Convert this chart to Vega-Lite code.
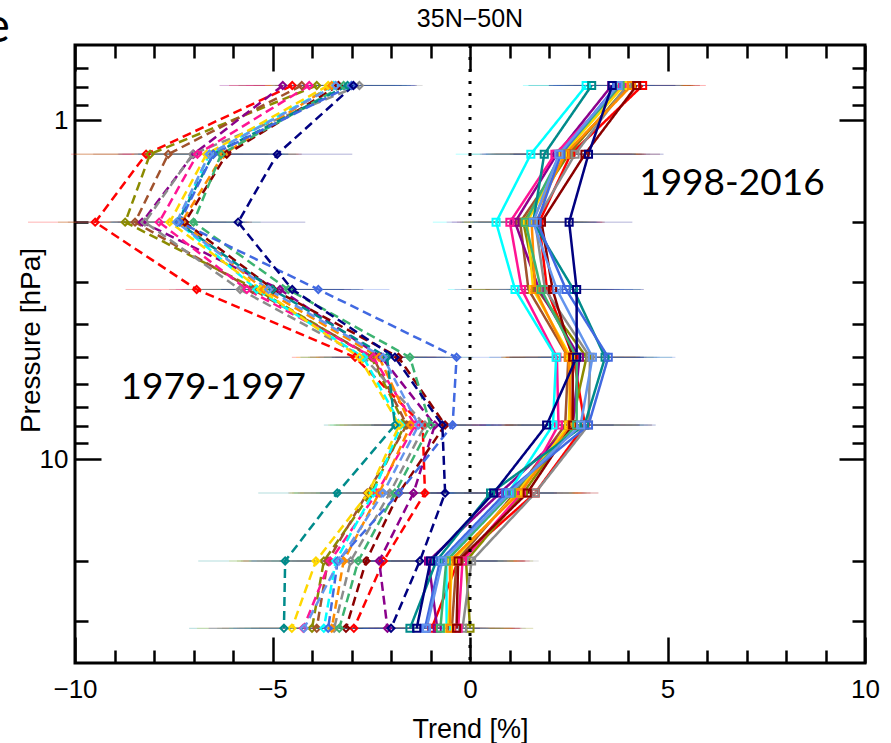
{
"$schema": "https://vega.github.io/schema/vega-lite/v6.json",
"width": 790, "height": 618,
"autosize": {"type": "none"},
"padding": {"left": 75, "top": 45, "right": 26, "bottom": 80},
"config": {
  "view": {"stroke": "black", "strokeWidth": 3},
  "axis": {"domain": false, "grid": false, "tickColor": "black", "tickWidth": 2.5, "labelColor": "black", "titleColor": "black", "labelFont": "Liberation Sans", "titleFont": "Liberation Sans", "labelFontSize": 26, "titleFontSize": 27, "titleFontWeight": "normal", "labelFlush": false, "labelOverlap": false}
},
"data": {"values": [
{"s":"red","g":"1979-1997","p":0.79,"t":-4.5,"e":1.6},{"s":"red","g":"1979-1997","p":1.26,"t":-8.2,"e":1.9},{"s":"red","g":"1979-1997","p":2.0,"t":-9.49,"e":1.7},{"s":"red","g":"1979-1997","p":3.16,"t":-6.92,"e":1.8},{"s":"red","g":"1979-1997","p":5.01,"t":-2.91,"e":1.6},{"s":"red","g":"1979-1997","p":7.94,"t":-1.2,"e":1.8},{"s":"red","g":"1979-1997","p":12.6,"t":-1.14,"e":2.0},{"s":"red","g":"1979-1997","p":20,"t":-2.19,"e":2.2},{"s":"red","g":"1979-1997","p":31.6,"t":-2.94,"e":2.4},
{"s":"olive","g":"1979-1997","p":0.79,"t":-3.88,"e":1.6},{"s":"olive","g":"1979-1997","p":1.26,"t":-8.1,"e":1.9},{"s":"olive","g":"1979-1997","p":2.0,"t":-8.73,"e":1.7},{"s":"olive","g":"1979-1997","p":3.16,"t":-5.4,"e":1.8},{"s":"olive","g":"1979-1997","p":5.01,"t":-2.5,"e":1.6},{"s":"olive","g":"1979-1997","p":7.94,"t":-1.65,"e":1.8},{"s":"olive","g":"1979-1997","p":12.6,"t":-2.5,"e":2.0},{"s":"olive","g":"1979-1997","p":20,"t":-3.7,"e":2.2},{"s":"olive","g":"1979-1997","p":31.6,"t":-4.0,"e":2.4},
{"s":"sienna","g":"1979-1997","p":0.79,"t":-4.26,"e":1.6},{"s":"sienna","g":"1979-1997","p":1.26,"t":-7.64,"e":1.9},{"s":"sienna","g":"1979-1997","p":2.0,"t":-8.48,"e":1.7},{"s":"sienna","g":"1979-1997","p":3.16,"t":-5.5,"e":1.8},{"s":"sienna","g":"1979-1997","p":5.01,"t":-2.45,"e":1.6},{"s":"sienna","g":"1979-1997","p":7.94,"t":-1.6,"e":1.8},{"s":"sienna","g":"1979-1997","p":12.6,"t":-2.6,"e":2.0},{"s":"sienna","g":"1979-1997","p":20,"t":-3.6,"e":2.2},{"s":"sienna","g":"1979-1997","p":31.6,"t":-3.88,"e":2.4},
{"s":"purple","g":"1979-1997","p":0.79,"t":-4.74,"e":1.6},{"s":"purple","g":"1979-1997","p":1.26,"t":-7.0,"e":1.9},{"s":"purple","g":"1979-1997","p":2.0,"t":-8.3,"e":1.7},{"s":"purple","g":"1979-1997","p":3.16,"t":-4.81,"e":1.8},{"s":"purple","g":"1979-1997","p":5.01,"t":-2.24,"e":1.6},{"s":"purple","g":"1979-1997","p":7.94,"t":-0.89,"e":1.8},{"s":"purple","g":"1979-1997","p":12.6,"t":-1.43,"e":2.0},{"s":"purple","g":"1979-1997","p":20,"t":-2.3,"e":2.2},{"s":"purple","g":"1979-1997","p":31.6,"t":-2.09,"e":2.4},
{"s":"gray","g":"1979-1997","p":0.79,"t":-2.8,"e":1.6},{"s":"gray","g":"1979-1997","p":1.26,"t":-7.02,"e":1.9},{"s":"gray","g":"1979-1997","p":2.0,"t":-8.23,"e":1.7},{"s":"gray","g":"1979-1997","p":3.16,"t":-5.82,"e":1.8},{"s":"gray","g":"1979-1997","p":5.01,"t":-2.68,"e":1.6},{"s":"gray","g":"1979-1997","p":7.94,"t":-1.14,"e":1.8},{"s":"gray","g":"1979-1997","p":12.6,"t":-2.03,"e":2.0},{"s":"gray","g":"1979-1997","p":20,"t":-3.02,"e":2.2},{"s":"gray","g":"1979-1997","p":31.6,"t":-3.44,"e":2.4},
{"s":"deeppink","g":"1979-1997","p":0.79,"t":-4.07,"e":1.6},{"s":"deeppink","g":"1979-1997","p":1.26,"t":-6.9,"e":1.9},{"s":"deeppink","g":"1979-1997","p":2.0,"t":-7.87,"e":1.7},{"s":"deeppink","g":"1979-1997","p":3.16,"t":-5.65,"e":1.8},{"s":"deeppink","g":"1979-1997","p":5.01,"t":-2.45,"e":1.6},{"s":"deeppink","g":"1979-1997","p":7.94,"t":-1.39,"e":1.8},{"s":"deeppink","g":"1979-1997","p":12.6,"t":-2.36,"e":2.0},{"s":"deeppink","g":"1979-1997","p":20,"t":-3.54,"e":2.2},{"s":"deeppink","g":"1979-1997","p":31.6,"t":-4.22,"e":2.4},
{"s":"cyan","g":"1979-1997","p":0.79,"t":-3.45,"e":1.6},{"s":"cyan","g":"1979-1997","p":1.26,"t":-6.6,"e":1.9},{"s":"cyan","g":"1979-1997","p":2.0,"t":-7.4,"e":1.7},{"s":"cyan","g":"1979-1997","p":3.16,"t":-5.4,"e":1.8},{"s":"cyan","g":"1979-1997","p":5.01,"t":-2.7,"e":1.6},{"s":"cyan","g":"1979-1997","p":7.94,"t":-1.75,"e":1.8},{"s":"cyan","g":"1979-1997","p":12.6,"t":-2.45,"e":2.0},{"s":"cyan","g":"1979-1997","p":20,"t":-3.4,"e":2.2},{"s":"cyan","g":"1979-1997","p":31.6,"t":-3.7,"e":2.4},
{"s":"gold","g":"1979-1997","p":0.79,"t":-3.59,"e":1.6},{"s":"gold","g":"1979-1997","p":1.26,"t":-6.67,"e":1.9},{"s":"gold","g":"1979-1997","p":2.0,"t":-7.6,"e":1.7},{"s":"gold","g":"1979-1997","p":3.16,"t":-5.3,"e":1.8},{"s":"gold","g":"1979-1997","p":5.01,"t":-2.8,"e":1.6},{"s":"gold","g":"1979-1997","p":7.94,"t":-1.79,"e":1.8},{"s":"gold","g":"1979-1997","p":12.6,"t":-2.57,"e":2.0},{"s":"gold","g":"1979-1997","p":20,"t":-3.9,"e":2.2},{"s":"gold","g":"1979-1997","p":31.6,"t":-4.51,"e":2.4},
{"s":"orange","g":"1979-1997","p":0.79,"t":-3.5,"e":1.6},{"s":"orange","g":"1979-1997","p":1.26,"t":-6.24,"e":1.9},{"s":"orange","g":"1979-1997","p":2.0,"t":-7.3,"e":1.7},{"s":"orange","g":"1979-1997","p":3.16,"t":-5.22,"e":1.8},{"s":"orange","g":"1979-1997","p":5.01,"t":-2.3,"e":1.6},{"s":"orange","g":"1979-1997","p":7.94,"t":-1.5,"e":1.8},{"s":"orange","g":"1979-1997","p":12.6,"t":-2.3,"e":2.0},{"s":"orange","g":"1979-1997","p":20,"t":-3.2,"e":2.2},{"s":"orange","g":"1979-1997","p":31.6,"t":-3.5,"e":2.4},
{"s":"maroon","g":"1979-1997","p":0.79,"t":-3.33,"e":1.6},{"s":"maroon","g":"1979-1997","p":1.26,"t":-6.16,"e":1.9},{"s":"maroon","g":"1979-1997","p":2.0,"t":-7.22,"e":1.7},{"s":"maroon","g":"1979-1997","p":3.16,"t":-4.98,"e":1.8},{"s":"maroon","g":"1979-1997","p":5.01,"t":-1.81,"e":1.6},{"s":"maroon","g":"1979-1997","p":7.94,"t":-0.63,"e":1.8},{"s":"maroon","g":"1979-1997","p":12.6,"t":-1.8,"e":2.0},{"s":"maroon","g":"1979-1997","p":20,"t":-2.63,"e":2.2},{"s":"maroon","g":"1979-1997","p":31.6,"t":-3.14,"e":2.4},
{"s":"seagreen","g":"1979-1997","p":0.79,"t":-3.2,"e":1.6},{"s":"seagreen","g":"1979-1997","p":1.26,"t":-6.3,"e":1.9},{"s":"seagreen","g":"1979-1997","p":2.0,"t":-7.0,"e":1.7},{"s":"seagreen","g":"1979-1997","p":3.16,"t":-4.6,"e":1.8},{"s":"seagreen","g":"1979-1997","p":5.01,"t":-1.52,"e":1.6},{"s":"seagreen","g":"1979-1997","p":7.94,"t":-1.0,"e":1.8},{"s":"seagreen","g":"1979-1997","p":12.6,"t":-1.9,"e":2.0},{"s":"seagreen","g":"1979-1997","p":20,"t":-2.83,"e":2.2},{"s":"seagreen","g":"1979-1997","p":31.6,"t":-3.31,"e":2.4},
{"s":"teal","g":"1979-1997","p":0.79,"t":-3.1,"e":1.6},{"s":"teal","g":"1979-1997","p":1.26,"t":-6.5,"e":1.9},{"s":"teal","g":"1979-1997","p":2.0,"t":-7.4,"e":1.7},{"s":"teal","g":"1979-1997","p":3.16,"t":-5.0,"e":1.8},{"s":"teal","g":"1979-1997","p":5.01,"t":-2.1,"e":1.6},{"s":"teal","g":"1979-1997","p":7.94,"t":-1.9,"e":1.8},{"s":"teal","g":"1979-1997","p":12.6,"t":-3.36,"e":2.0},{"s":"teal","g":"1979-1997","p":20,"t":-4.68,"e":2.2},{"s":"teal","g":"1979-1997","p":31.6,"t":-4.71,"e":2.4},
{"s":"royalblue","g":"1979-1997","p":0.79,"t":-3.0,"e":1.6},{"s":"royalblue","g":"1979-1997","p":1.26,"t":-6.5,"e":1.9},{"s":"royalblue","g":"1979-1997","p":2.0,"t":-7.35,"e":1.7},{"s":"royalblue","g":"1979-1997","p":3.16,"t":-3.84,"e":1.8},{"s":"royalblue","g":"1979-1997","p":5.01,"t":-0.34,"e":1.6},{"s":"royalblue","g":"1979-1997","p":7.94,"t":-0.44,"e":1.8},{"s":"royalblue","g":"1979-1997","p":12.6,"t":-1.8,"e":2.0},{"s":"royalblue","g":"1979-1997","p":20,"t":-3.35,"e":2.2},{"s":"royalblue","g":"1979-1997","p":31.6,"t":-3.59,"e":2.4},
{"s":"cornflower","g":"1979-1997","p":0.79,"t":-3.4,"e":1.6},{"s":"cornflower","g":"1979-1997","p":1.26,"t":-6.6,"e":1.9},{"s":"cornflower","g":"1979-1997","p":2.0,"t":-7.43,"e":1.7},{"s":"cornflower","g":"1979-1997","p":3.16,"t":-5.1,"e":1.8},{"s":"cornflower","g":"1979-1997","p":5.01,"t":-2.2,"e":1.6},{"s":"cornflower","g":"1979-1997","p":7.94,"t":-1.3,"e":1.8},{"s":"cornflower","g":"1979-1997","p":12.6,"t":-2.2,"e":2.0},{"s":"cornflower","g":"1979-1997","p":20,"t":-3.31,"e":2.2},{"s":"cornflower","g":"1979-1997","p":31.6,"t":-4.2,"e":2.4},
{"s":"navy","g":"1979-1997","p":0.79,"t":-2.95,"e":1.6},{"s":"navy","g":"1979-1997","p":1.26,"t":-4.88,"e":1.9},{"s":"navy","g":"1979-1997","p":2.0,"t":-5.87,"e":1.7},{"s":"navy","g":"1979-1997","p":3.16,"t":-4.5,"e":1.8},{"s":"navy","g":"1979-1997","p":5.01,"t":-1.9,"e":1.6},{"s":"navy","g":"1979-1997","p":7.94,"t":-0.7,"e":1.8},{"s":"navy","g":"1979-1997","p":12.6,"t":-0.63,"e":2.0},{"s":"navy","g":"1979-1997","p":20,"t":-1.27,"e":2.2},{"s":"navy","g":"1979-1997","p":31.6,"t":-2.0,"e":2.4},
{"s":"red","g":"1998-2016","p":0.79,"t":4.37,"e":1.6},{"s":"red","g":"1998-2016","p":1.26,"t":2.55,"e":1.9},{"s":"red","g":"1998-2016","p":2.0,"t":1.75,"e":1.6},{"s":"red","g":"1998-2016","p":3.16,"t":1.95,"e":1.7},{"s":"red","g":"1998-2016","p":5.01,"t":2.62,"e":1.7},{"s":"red","g":"1998-2016","p":7.94,"t":2.91,"e":1.7},{"s":"red","g":"1998-2016","p":12.6,"t":1.65,"e":1.6},{"s":"red","g":"1998-2016","p":20,"t":-0.3,"e":1.7},{"s":"red","g":"1998-2016","p":31.6,"t":-0.97,"e":1.6},
{"s":"olive","g":"1998-2016","p":0.79,"t":4.0,"e":1.6},{"s":"olive","g":"1998-2016","p":1.26,"t":2.5,"e":1.9},{"s":"olive","g":"1998-2016","p":2.0,"t":1.35,"e":1.6},{"s":"olive","g":"1998-2016","p":3.16,"t":1.7,"e":1.7},{"s":"olive","g":"1998-2016","p":5.01,"t":2.95,"e":1.7},{"s":"olive","g":"1998-2016","p":7.94,"t":2.57,"e":1.7},{"s":"olive","g":"1998-2016","p":12.6,"t":1.35,"e":1.6},{"s":"olive","g":"1998-2016","p":20,"t":-0.1,"e":1.7},{"s":"olive","g":"1998-2016","p":31.6,"t":0.0,"e":1.6},
{"s":"sienna","g":"1998-2016","p":0.79,"t":4.05,"e":1.6},{"s":"sienna","g":"1998-2016","p":1.26,"t":2.45,"e":1.9},{"s":"sienna","g":"1998-2016","p":2.0,"t":1.27,"e":1.6},{"s":"sienna","g":"1998-2016","p":3.16,"t":1.48,"e":1.7},{"s":"sienna","g":"1998-2016","p":5.01,"t":2.49,"e":1.7},{"s":"sienna","g":"1998-2016","p":7.94,"t":2.41,"e":1.7},{"s":"sienna","g":"1998-2016","p":12.6,"t":1.14,"e":1.6},{"s":"sienna","g":"1998-2016","p":20,"t":-0.34,"e":1.7},{"s":"sienna","g":"1998-2016","p":31.6,"t":-0.46,"e":1.6},
{"s":"purple","g":"1998-2016","p":0.79,"t":3.59,"e":1.6},{"s":"purple","g":"1998-2016","p":1.26,"t":2.2,"e":1.9},{"s":"purple","g":"1998-2016","p":2.0,"t":1.14,"e":1.6},{"s":"purple","g":"1998-2016","p":3.16,"t":1.75,"e":1.7},{"s":"purple","g":"1998-2016","p":5.01,"t":2.77,"e":1.7},{"s":"purple","g":"1998-2016","p":7.94,"t":2.6,"e":1.7},{"s":"purple","g":"1998-2016","p":12.6,"t":0.76,"e":1.6},{"s":"purple","g":"1998-2016","p":20,"t":-1.05,"e":1.7},{"s":"purple","g":"1998-2016","p":31.6,"t":-0.83,"e":1.6},
{"s":"gray","g":"1998-2016","p":0.79,"t":3.97,"e":1.6},{"s":"gray","g":"1998-2016","p":1.26,"t":2.66,"e":1.9},{"s":"gray","g":"1998-2016","p":2.0,"t":1.65,"e":1.6},{"s":"gray","g":"1998-2016","p":3.16,"t":1.9,"e":1.7},{"s":"gray","g":"1998-2016","p":5.01,"t":3.04,"e":1.7},{"s":"gray","g":"1998-2016","p":7.94,"t":3.0,"e":1.7},{"s":"gray","g":"1998-2016","p":12.6,"t":1.65,"e":1.6},{"s":"gray","g":"1998-2016","p":20,"t":0.04,"e":1.7},{"s":"gray","g":"1998-2016","p":31.6,"t":-0.19,"e":1.6},
{"s":"deeppink","g":"1998-2016","p":0.79,"t":3.86,"e":1.6},{"s":"deeppink","g":"1998-2016","p":1.26,"t":2.15,"e":1.9},{"s":"deeppink","g":"1998-2016","p":2.0,"t":1.01,"e":1.6},{"s":"deeppink","g":"1998-2016","p":3.16,"t":1.31,"e":1.7},{"s":"deeppink","g":"1998-2016","p":5.01,"t":2.2,"e":1.7},{"s":"deeppink","g":"1998-2016","p":7.94,"t":2.24,"e":1.7},{"s":"deeppink","g":"1998-2016","p":12.6,"t":1.3,"e":1.6},{"s":"deeppink","g":"1998-2016","p":20,"t":-0.19,"e":1.7},{"s":"deeppink","g":"1998-2016","p":31.6,"t":-0.3,"e":1.6},
{"s":"cyan","g":"1998-2016","p":0.79,"t":2.94,"e":1.6},{"s":"cyan","g":"1998-2016","p":1.26,"t":1.54,"e":1.9},{"s":"cyan","g":"1998-2016","p":2.0,"t":0.66,"e":1.6},{"s":"cyan","g":"1998-2016","p":3.16,"t":1.14,"e":1.7},{"s":"cyan","g":"1998-2016","p":5.01,"t":2.18,"e":1.7},{"s":"cyan","g":"1998-2016","p":7.94,"t":2.1,"e":1.7},{"s":"cyan","g":"1998-2016","p":12.6,"t":0.97,"e":1.6},{"s":"cyan","g":"1998-2016","p":20,"t":-0.6,"e":1.7},{"s":"cyan","g":"1998-2016","p":31.6,"t":-0.59,"e":1.6},
{"s":"gold","g":"1998-2016","p":0.79,"t":3.9,"e":1.6},{"s":"gold","g":"1998-2016","p":1.26,"t":2.35,"e":1.9},{"s":"gold","g":"1998-2016","p":2.0,"t":1.45,"e":1.6},{"s":"gold","g":"1998-2016","p":3.16,"t":1.6,"e":1.7},{"s":"gold","g":"1998-2016","p":5.01,"t":2.55,"e":1.7},{"s":"gold","g":"1998-2016","p":7.94,"t":2.5,"e":1.7},{"s":"gold","g":"1998-2016","p":12.6,"t":1.2,"e":1.6},{"s":"gold","g":"1998-2016","p":20,"t":-0.45,"e":1.7},{"s":"gold","g":"1998-2016","p":31.6,"t":-0.55,"e":1.6},
{"s":"orange","g":"1998-2016","p":0.79,"t":4.09,"e":1.6},{"s":"orange","g":"1998-2016","p":1.26,"t":2.41,"e":1.9},{"s":"orange","g":"1998-2016","p":2.0,"t":1.56,"e":1.6},{"s":"orange","g":"1998-2016","p":3.16,"t":1.65,"e":1.7},{"s":"orange","g":"1998-2016","p":5.01,"t":2.49,"e":1.7},{"s":"orange","g":"1998-2016","p":7.94,"t":2.57,"e":1.7},{"s":"orange","g":"1998-2016","p":12.6,"t":1.25,"e":1.6},{"s":"orange","g":"1998-2016","p":20,"t":-0.51,"e":1.7},{"s":"orange","g":"1998-2016","p":31.6,"t":-0.5,"e":1.6},
{"s":"maroon","g":"1998-2016","p":0.79,"t":4.22,"e":1.6},{"s":"maroon","g":"1998-2016","p":1.26,"t":2.91,"e":1.9},{"s":"maroon","g":"1998-2016","p":2.0,"t":1.81,"e":1.6},{"s":"maroon","g":"1998-2016","p":3.16,"t":2.09,"e":1.7},{"s":"maroon","g":"1998-2016","p":5.01,"t":2.6,"e":1.7},{"s":"maroon","g":"1998-2016","p":7.94,"t":2.6,"e":1.7},{"s":"maroon","g":"1998-2016","p":12.6,"t":1.45,"e":1.6},{"s":"maroon","g":"1998-2016","p":20,"t":-0.3,"e":1.7},{"s":"maroon","g":"1998-2016","p":31.6,"t":-0.34,"e":1.6},
{"s":"seagreen","g":"1998-2016","p":0.79,"t":3.8,"e":1.6},{"s":"seagreen","g":"1998-2016","p":1.26,"t":2.3,"e":1.9},{"s":"seagreen","g":"1998-2016","p":2.0,"t":1.4,"e":1.6},{"s":"seagreen","g":"1998-2016","p":3.16,"t":1.8,"e":1.7},{"s":"seagreen","g":"1998-2016","p":5.01,"t":2.7,"e":1.7},{"s":"seagreen","g":"1998-2016","p":7.94,"t":2.7,"e":1.7},{"s":"seagreen","g":"1998-2016","p":12.6,"t":1.05,"e":1.6},{"s":"seagreen","g":"1998-2016","p":20,"t":-0.6,"e":1.7},{"s":"seagreen","g":"1998-2016","p":31.6,"t":-0.75,"e":1.6},
{"s":"teal","g":"1998-2016","p":0.79,"t":3.08,"e":1.6},{"s":"teal","g":"1998-2016","p":1.26,"t":1.88,"e":1.9},{"s":"teal","g":"1998-2016","p":2.0,"t":1.6,"e":1.6},{"s":"teal","g":"1998-2016","p":3.16,"t":2.62,"e":1.7},{"s":"teal","g":"1998-2016","p":5.01,"t":3.42,"e":1.7},{"s":"teal","g":"1998-2016","p":7.94,"t":2.9,"e":1.7},{"s":"teal","g":"1998-2016","p":12.6,"t":0.52,"e":1.6},{"s":"teal","g":"1998-2016","p":20,"t":-0.85,"e":1.7},{"s":"teal","g":"1998-2016","p":31.6,"t":-1.52,"e":1.6},
{"s":"royalblue","g":"1998-2016","p":0.79,"t":3.71,"e":1.6},{"s":"royalblue","g":"1998-2016","p":1.26,"t":2.3,"e":1.9},{"s":"royalblue","g":"1998-2016","p":2.0,"t":1.7,"e":1.6},{"s":"royalblue","g":"1998-2016","p":3.16,"t":2.43,"e":1.7},{"s":"royalblue","g":"1998-2016","p":5.01,"t":3.5,"e":1.7},{"s":"royalblue","g":"1998-2016","p":7.94,"t":3.0,"e":1.7},{"s":"royalblue","g":"1998-2016","p":12.6,"t":0.9,"e":1.6},{"s":"royalblue","g":"1998-2016","p":20,"t":-0.76,"e":1.7},{"s":"royalblue","g":"1998-2016","p":31.6,"t":-1.14,"e":1.6},
{"s":"cornflower","g":"1998-2016","p":0.79,"t":3.75,"e":1.6},{"s":"cornflower","g":"1998-2016","p":1.26,"t":2.25,"e":1.9},{"s":"cornflower","g":"1998-2016","p":2.0,"t":1.6,"e":1.6},{"s":"cornflower","g":"1998-2016","p":3.16,"t":2.2,"e":1.7},{"s":"cornflower","g":"1998-2016","p":5.01,"t":3.1,"e":1.7},{"s":"cornflower","g":"1998-2016","p":7.94,"t":2.8,"e":1.7},{"s":"cornflower","g":"1998-2016","p":12.6,"t":1.0,"e":1.6},{"s":"cornflower","g":"1998-2016","p":20,"t":-0.7,"e":1.7},{"s":"cornflower","g":"1998-2016","p":31.6,"t":-1.1,"e":1.6},
{"s":"navy","g":"1998-2016","p":0.79,"t":3.6,"e":1.6},{"s":"navy","g":"1998-2016","p":1.26,"t":3.0,"e":1.9},{"s":"navy","g":"1998-2016","p":2.0,"t":2.51,"e":1.6},{"s":"navy","g":"1998-2016","p":3.16,"t":2.7,"e":1.7},{"s":"navy","g":"1998-2016","p":5.01,"t":2.7,"e":1.7},{"s":"navy","g":"1998-2016","p":7.94,"t":1.94,"e":1.7},{"s":"navy","g":"1998-2016","p":12.6,"t":0.6,"e":1.6},{"s":"navy","g":"1998-2016","p":20,"t":-1.0,"e":1.7},{"s":"navy","g":"1998-2016","p":31.6,"t":-1.35,"e":1.6}
]},
"layer": [
  {
    "mark": {"type": "errorbar", "thickness": 1, "opacity": 0.3},
    "encoding": {
      "x": {"field": "t", "type": "quantitative", "scale": {"domain": [-10, 10], "nice": false, "zero": false}, "axis": null},
      "xError": {"field": "e"},
      "y": {"field": "p", "type": "quantitative", "scale": {"type": "log", "domain": [0.6, 40], "reverse": true, "nice": false}, "axis": null},
      "color": {"field": "s", "type": "nominal", "legend": null, "scale": {"domain": ["red","olive","sienna","purple","gray","deeppink","cyan","gold","orange","maroon","seagreen","teal","royalblue","cornflower","navy"], "range": ["#ff0000","#8b8b00","#a0522d","#8b008b","#8c8c8c","#ff1493","#00ffff","#ffd700","#ff8c00","#8b0000","#3cb371","#008b8b","#4169e1","#6495ed","#000080"]}}
    }
  },
  {
    "mark": {"type": "line", "strokeWidth": 2.5},
    "encoding": {
      "x": {"field": "t", "type": "quantitative", "scale": {"domain": [-10, 10], "nice": false, "zero": false},
        "axis": {"orient": "bottom", "values": [-10,-9,-8,-7,-6,-5,-4,-3,-2,-1,0,1,2,3,4,5,6,7,8,9,10], "format": "d", "labelExpr": "datum.value % 5 === 0 ? datum.label : ''", "tickSize": {"condition": {"test": "datum.value % 5 === 0", "value": -26}, "value": -13}, "labelBaseline": "alphabetic", "labelPadding": 60, "title": "Trend [%]", "titleX": 395, "titleY": 74, "titleBaseline": "alphabetic", "titleAlign": "center", "titleAnchor": null}},
      "y": {"field": "p", "type": "quantitative", "scale": {"type": "log", "domain": [0.6, 40], "reverse": true, "nice": false},
        "axis": {"orient": "left", "values": [0.7,0.8,0.9,1,2,3,4,5,6,7,8,9,10,20,30], "format": "~g", "labelExpr": "datum.value === 1 || datum.value === 10 ? datum.label : ''", "tickSize": {"condition": {"test": "datum.value === 1 || datum.value === 10", "value": -26}, "value": -13}, "labelPadding": 33, "title": "Pressure [hPa]", "titleFontSize": 28, "titleX": -44, "titleY": 295, "titleAngle": 270, "titleAlign": "center", "titleBaseline": "middle", "titleAnchor": null}},
      "color": {"field": "s", "type": "nominal", "legend": null},
      "strokeDash": {"field": "g", "type": "nominal", "legend": null, "scale": {"domain": ["1979-1997", "1998-2016"], "range": [[9, 5], [1, 0]]}},
      "detail": {"field": "g"},
      "order": {"field": "p", "type": "quantitative"}
    }
  },
  {
    "mark": {"type": "point", "filled": false, "strokeWidth": 2, "size": 50, "opacity": 1},
    "encoding": {
      "x": {"field": "t", "type": "quantitative", "scale": {"domain": [-10, 10], "nice": false, "zero": false},
        "axis": {"orient": "top", "values": [-10,-9,-8,-7,-6,-5,-4,-3,-2,-1,0,1,2,3,4,5,6,7,8,9,10], "labels": false, "title": null, "tickSize": {"condition": {"test": "datum.value % 5 === 0", "value": -26}, "value": -13}}},
      "y": {"field": "p", "type": "quantitative", "scale": {"type": "log", "domain": [0.6, 40], "reverse": true, "nice": false},
        "axis": {"orient": "right", "values": [0.7,0.8,0.9,1,2,3,4,5,6,7,8,9,10,20,30], "labels": false, "title": null, "tickSize": {"condition": {"test": "datum.value === 1 || datum.value === 10", "value": -26}, "value": -13}}},
      "color": {"field": "s", "type": "nominal", "legend": null},
      "shape": {"field": "g", "type": "nominal", "legend": null, "scale": {"domain": ["1979-1997", "1998-2016"], "range": ["diamond", "square"]}}
    }
  },
  {
    "data": {"values": [{"t": 0}]},
    "mark": {"type": "rule", "color": "black", "strokeWidth": 3, "strokeDash": [3, 9], "strokeCap": "butt"},
    "encoding": {"x": {"field": "t", "type": "quantitative", "axis": null}}
  },
  {
    "data": {"values": [{"label": "1979-1997", "t": -6.5, "p": 6.17}, {"label": "1998-2016", "t": 6.63, "p": 1.543}]},
    "mark": {"type": "text", "font": "Lato", "fontSize": 37, "color": "black", "align": "center", "baseline": "middle"},
    "encoding": {
      "x": {"field": "t", "type": "quantitative", "axis": null},
      "y": {"field": "p", "type": "quantitative", "axis": null},
      "text": {"field": "label"}
    }
  },
  {
    "data": {"values": [{"label": "35N−50N", "t": 0, "p": 0.531}]},
    "mark": {"type": "text", "font": "Liberation Sans", "fontSize": 25, "color": "black", "align": "center", "baseline": "alphabetic", "clip": false},
    "encoding": {
      "x": {"field": "t", "type": "quantitative", "axis": null},
      "y": {"field": "p", "type": "quantitative", "axis": null},
      "text": {"field": "label"}
    }
  },
  {
    "data": {"values": [{"label": "e", "t": -11.65, "p": 0.535}]},
    "mark": {"type": "text", "font": "Lato", "fontSize": 48, "color": "black", "align": "right", "baseline": "middle", "clip": false},
    "encoding": {
      "x": {"field": "t", "type": "quantitative", "axis": null},
      "y": {"field": "p", "type": "quantitative", "axis": null},
      "text": {"field": "label"}
    }
  }
],
"resolve": {"axis": {"x": "independent", "y": "independent"}}
}
